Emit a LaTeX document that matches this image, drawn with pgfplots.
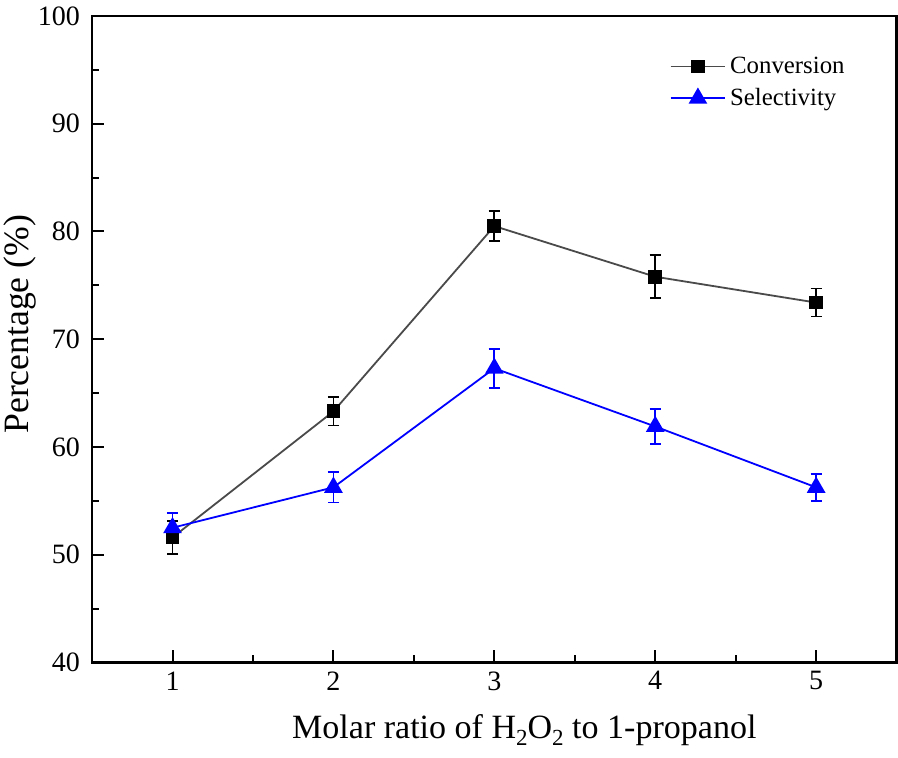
\documentclass[border=0pt]{standalone}
\usepackage{fontspec}
\setmainfont{Liberation Serif}
\usepackage{pgfplots}
\pgfplotsset{compat=1.18}
\definecolor{convline}{HTML}{4A4A4A}
\definecolor{selblue}{HTML}{0000FF}
\newcommand{\sub}[1]{\raisebox{-0.45ex}{\fontsize{11.5}{12}\selectfont #1}}
\begin{document}
\begin{tikzpicture}
\begin{axis}[
  scale only axis,width=402pt,height=323pt,
  xmin=0.5,xmax=5.5,ymin=40,ymax=100,
  xtick={1,2,3,4,5},ytick={40,50,...,100},
  minor xtick={1.5,2.5,3.5,4.5},minor ytick={45,55,...,95},
  tick align=inside,xtick pos=bottom,ytick pos=left,
  major tick length=6pt,minor tick length=3.5pt,
  tick style={line width=1pt,black},
  axis line style={line width=1.4pt},
  /pgf/number format/assume math mode=true,
  tick label style={font=\fontsize{14}{16}\selectfont},
  yticklabel style={xshift=-2.5pt},
  xticklabel style={yshift=-1pt},
  xlabel={Molar ratio of H\sub{2}O\sub{2} to 1-propanol},
  ylabel={Percentage (\%)},
  xlabel style={font=\fontsize{17}{19}\selectfont,
    at={(axis description cs:0.5,0)},anchor=base,
    xshift=15pt,yshift=-38pt},
  ylabel style={font=\fontsize{17.8}{20}\selectfont,
    at={(axis description cs:0,0.5)},anchor=center,
    xshift=7.5pt,yshift=36pt},
  legend style={draw=none,fill=none,font=\fontsize{12.4}{15}\selectfont,
    at={(0.71,0.95)},anchor=north west,row sep=2pt},
  legend cell align=left,
  legend image code/.code={
    \draw[mark repeat=2,mark phase=2,#1] plot coordinates {(0cm,0cm) (0.48cm,0cm) (0.96cm,0cm)};},
]
\addplot[convline,line width=0.9pt,mark=square*,mark size=3pt,
  mark options={black,fill=black},
  error bars/.cd,y dir=both,y explicit,
  error bar style={black,line width=0.9pt},
  error mark options={black,line width=0.9pt,mark size=2.8pt,rotate=90}]
  coordinates {
  (1,51.6) +- (0,1.5)
  (2,63.3) +- (0,1.3)
  (3,80.5) +- (0,1.4)
  (4,75.8) +- (0,2.0)
  (5,73.4) +- (0,1.3)
  };
\addlegendentry{Conversion}
\addplot[selblue,line width=0.9pt,mark=triangle*,mark size=4.5pt,
  mark options={selblue,fill=selblue},
  error bars/.cd,y dir=both,y explicit,
  error bar style={selblue,line width=0.9pt},
  error mark options={selblue,line width=0.9pt,mark size=2.8pt,rotate=90}]
  coordinates {
  (1,52.5) +- (0,1.35)
  (2,56.25) +- (0,1.4)
  (3,67.3) +- (0,1.8)
  (4,61.9) +- (0,1.6)
  (5,56.25) +- (0,1.25)
  };
\addlegendentry{Selectivity}
\end{axis}
\pgfresetboundingbox
\path ([shift={(-46pt,-47.5pt)}]current axis.south west)
  rectangle ([shift={(0.7pt,8pt)}]current axis.north east);
\end{tikzpicture}
\end{document}
